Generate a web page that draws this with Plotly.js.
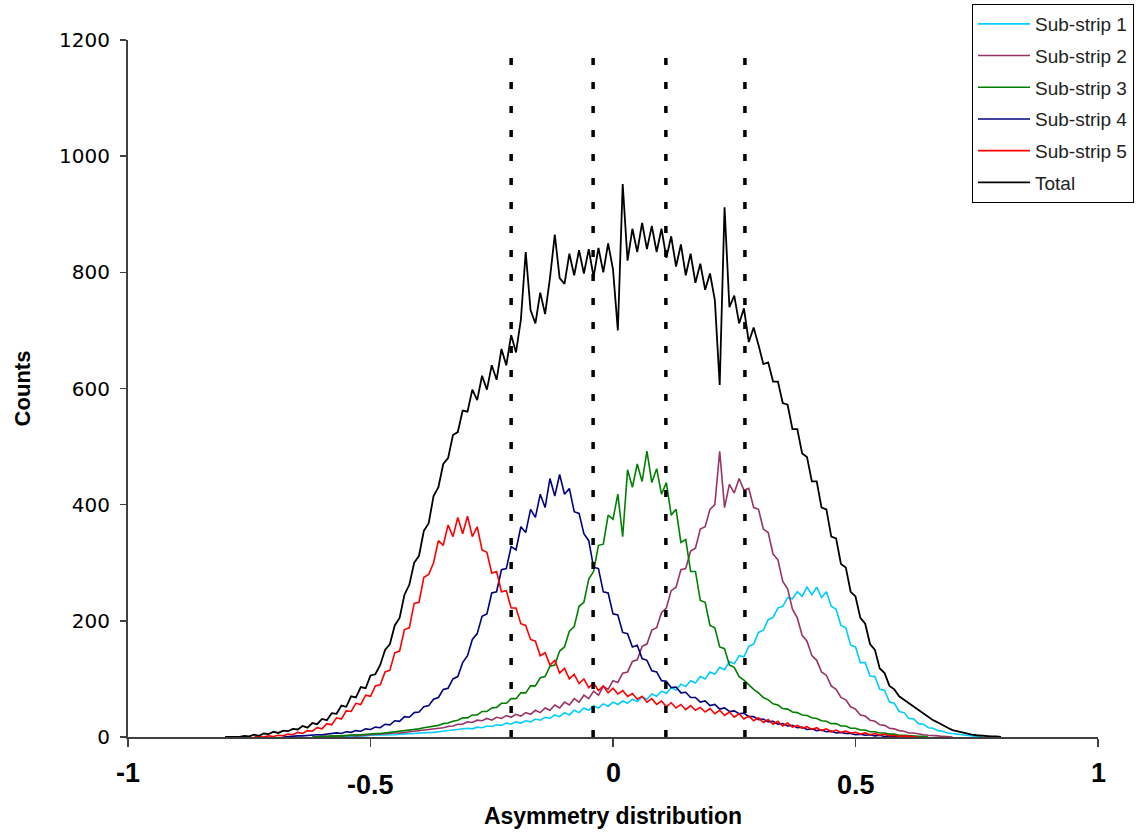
<!DOCTYPE html>
<html>
<head>
<meta charset="utf-8">
<script src="https://cdn.plot.ly/plotly-3.0.1.min.js"></script>
<style>html,body{margin:0;padding:0;background:#fff;}#chart{width:1143px;height:835px;}</style>
</head>
<body>
<div id="chart"></div>
<script>
// Bin width of the asymmetry histogram
const binWidth = 0.01;

// Sub-strip 1 (cyan), first bin at -0.58
const sub1Start = -0.58;
const sub1 = [0,1,1,1,1,2,2,2,3,3,3,4,4,4,5,5,6,6,7,7,8,8,9,10,11,11,13,13,15,14,17,16,19,18,21,20,24,22,26,24,28,26,31,29,34,32,38,35,42,38,46,42,50,46,54,50,57,53,60,56,62,58,65,61,69,65,74,70,79,75,85,81,91,87,97,93,104,100,112,108,120,116,130,126,140,138,156,160,180,184,202,206,222,225,240,238,250,242,258,245,258,240,250,225,220,192,188,158,155,128,128,105,104,82,80,60,58,44,42,32,31,23,22,16,15,11,10,7,6,4,4,2,2,1,0];

// Sub-strip 2 (purple), first bin at -0.62
const sub2Start = -0.62;
const sub2 = [0,1,1,1,2,1,2,2,3,2,3,4,4,5,5,6,6,7,7,8,9,9,11,11,13,13,15,16,18,19,22,22,26,25,29,28,32,29,34,32,37,34,39,36,42,39,46,42,50,46,55,50,60,55,66,60,72,66,79,72,87,82,97,94,110,112,130,133,156,160,184,188,214,222,252,258,288,290,320,325,358,362,392,400,492,395,435,420,445,425,428,395,392,358,352,315,305,268,255,220,205,175,165,140,132,112,106,88,82,68,64,52,48,38,36,29,27,21,20,15,14,11,10,7,7,5,4,3,3,2,1,1,0];

// Sub-strip 3 (green), first bin at -0.62
const sub3Start = -0.62;
const sub3 = [0,1,1,1,2,2,2,3,3,4,4,5,5,6,6,7,7,9,9,11,11,13,14,16,17,19,20,23,24,27,29,33,33,38,38,44,44,50,51,58,58,66,66,76,76,88,88,102,104,122,124,148,155,182,190,225,232,272,285,330,332,382,375,418,345,460,430,470,440,492,438,462,418,438,382,392,335,340,285,285,235,232,192,188,155,152,124,120,104,98,90,82,76,68,64,57,55,49,48,43,42,38,37,33,32,28,27,23,23,19,19,15,15,12,12,9,9,7,7,5,5,3,3,2,2,1,1,0];

// Sub-strip 4 (navy), first bin at -0.68
const sub4Start = -0.68;
const sub4 = [0,1,1,2,2,3,3,4,4,5,5,7,6,9,8,11,10,14,13,17,16,22,21,28,27,35,34,42,43,52,54,65,68,82,84,100,104,128,140,168,178,208,212,248,250,288,290,328,322,362,352,392,378,418,395,445,415,452,418,428,388,385,350,338,292,290,250,248,212,210,180,178,155,158,135,132,114,112,97,96,85,86,76,77,68,68,60,62,54,56,48,50,44,45,40,41,35,35,30,31,26,27,22,23,19,20,16,17,13,14,11,12,9,10,7,8,6,6,4,5,3,4,2,3,1,2,1,1,0];

// Sub-strip 5 (red), first bin at -0.74
const sub5Start = -0.74;
const sub5 = [0,1,0,2,1,3,2,5,4,8,6,11,10,16,14,23,21,33,31,45,44,58,56,72,70,88,90,112,115,145,148,185,188,230,232,275,280,300,338,330,365,345,378,350,380,345,362,322,318,282,285,250,252,222,222,195,192,168,165,140,145,124,132,110,118,100,108,92,100,85,93,80,88,76,84,74,80,70,75,65,70,60,66,56,62,52,59,50,56,47,54,46,51,43,49,40,46,37,43,34,40,31,36,28,33,25,30,22,27,19,24,17,20,15,18,13,16,11,14,9,12,8,10,7,8,5,7,4,6,3,5,2,3,1,2,1,1,0];

// Total (black), first bin at -0.80
const totalStart = -0.80;
const total = [0,0,1,0,2,1,4,2,6,5,9,7,11,10,14,13,19,16,24,22,31,29,41,40,54,52,70,68,86,84,106,108,124,150,160,192,205,245,262,300,312,355,368,415,430,470,480,520,525,562,560,598,580,622,598,640,615,668,640,692,662,718,835,735,712,765,728,790,865,790,780,832,795,838,798,840,792,842,800,850,805,700,952,820,875,835,885,840,880,835,875,825,862,810,848,795,832,782,815,770,798,752,606,912,740,760,712,738,680,705,675,642,645,612,612,575,572,530,530,488,482,440,440,395,392,345,342,298,292,250,242,205,195,160,150,118,110,88,82,70,64,58,52,46,40,35,29,25,20,16,12,10,7,6,4,3,2,2,1,1,0];

// Dotted sub-strip boundaries
const boundaries = [-0.21, -0.041, 0.109, 0.272];

const seriesNames = ['Sub-strip 1','Sub-strip 2','Sub-strip 3','Sub-strip 4','Sub-strip 5','Total'];
const seriesColors = ['#00CCFF','#993366','#008000','#000080','#FF0000','#000000'];
const seriesStarts = [sub1Start, sub2Start, sub3Start, sub4Start, sub5Start, totalStart];
const seriesValues = [sub1, sub2, sub3, sub4, sub5, total];

// Axis ticks
const xTickVals = [-1, -0.5, 0, 0.5, 1];
const xTickText = ['-1', '-0.5', '0', '0.5', '1'];
const yTickVals = [0, 200, 400, 600, 800, 1000, 1200];

const traces = seriesValues.map((vals, k) => ({
  type: 'scatter',
  mode: 'lines',
  name: seriesNames[k],
  legendgroup: 'g' + k,
  x: vals.map((_, i) => +(seriesStarts[k] + i * binWidth).toFixed(3)),
  y: vals,
  line: {color: seriesColors[k], width: k === 5 ? 1.8 : 1.6},
  hoverinfo: 'x+y+name'
}));

const shapes = boundaries.map(b => ({
  type: 'line', xref: 'x', yref: 'y',
  x0: b, x1: b, y0: 0, y1: 1188,
  line: {color: '#000000', width: 3.5, dash: '7px,17px'},
  layer: 'above'
}));

const annotations = xTickVals.map((v, i) => ({
  xref: 'x', yref: 'paper', x: v, y: 0,
  text: '<b>' + xTickText[i] + '</b>',
  showarrow: false, xanchor: 'center', yanchor: 'middle',
  yshift: (i % 2 === 0) ? -36 : -48,
  font: {family: 'Liberation Sans, Arial, sans-serif', size: 27, color: '#000000'}
}));

const layout = {
  width: 1143, height: 835,
  margin: {l: 128, r: 45, t: 40, b: 98, autoexpand: false},
  paper_bgcolor: '#ffffff', plot_bgcolor: '#ffffff',
  font: {family: 'Liberation Sans, Arial, sans-serif', color: '#000000'},
  showlegend: true,
  legend: {
    xref: 'container', yref: 'container',
    x: 0.8504, y: 0.9952, xanchor: 'left', yanchor: 'top',
    bgcolor: '#ffffff', bordercolor: '#000000', borderwidth: 1,
    font: {family: 'Liberation Sans, Arial, sans-serif', size: 19, color: '#222222'},
    itemwidth: 52,
    tracegroupgap: 4, traceorder: 'grouped'
  },
  xaxis: {
    range: [-1, 1], showgrid: false, zeroline: false,
    showline: true, linecolor: '#404040', linewidth: 2,
    ticks: 'outside', ticklen: 8, tickwidth: 1.5, tickcolor: '#404040',
    tickvals: xTickVals, showticklabels: false,
    title: {text: '<b>Asymmetry distribution</b>', standoff: 62,
      font: {family: 'Liberation Sans, Arial, sans-serif', size: 23, color: '#000000'}}
  },
  yaxis: {
    range: [0, 1200], showgrid: false, zeroline: false,
    showline: true, linecolor: '#404040', linewidth: 2,
    ticks: 'outside', ticklen: 6, tickwidth: 1.5, tickcolor: '#404040',
    tickvals: yTickVals, ticktext: yTickVals.map(String),
    ticklabelstandoff: 6,
    tickfont: {family: 'DejaVu Sans, sans-serif', size: 20, color: '#000000'},
    title: {text: '<b>Counts</b>', standoff: 22,
      font: {family: 'Liberation Sans, Arial, sans-serif', size: 22, color: '#000000'}}
  },
  shapes: shapes,
  annotations: annotations
};

Plotly.newPlot('chart', traces, layout, {displayModeBar: false, staticPlot: true});
</script>
</body>
</html>
